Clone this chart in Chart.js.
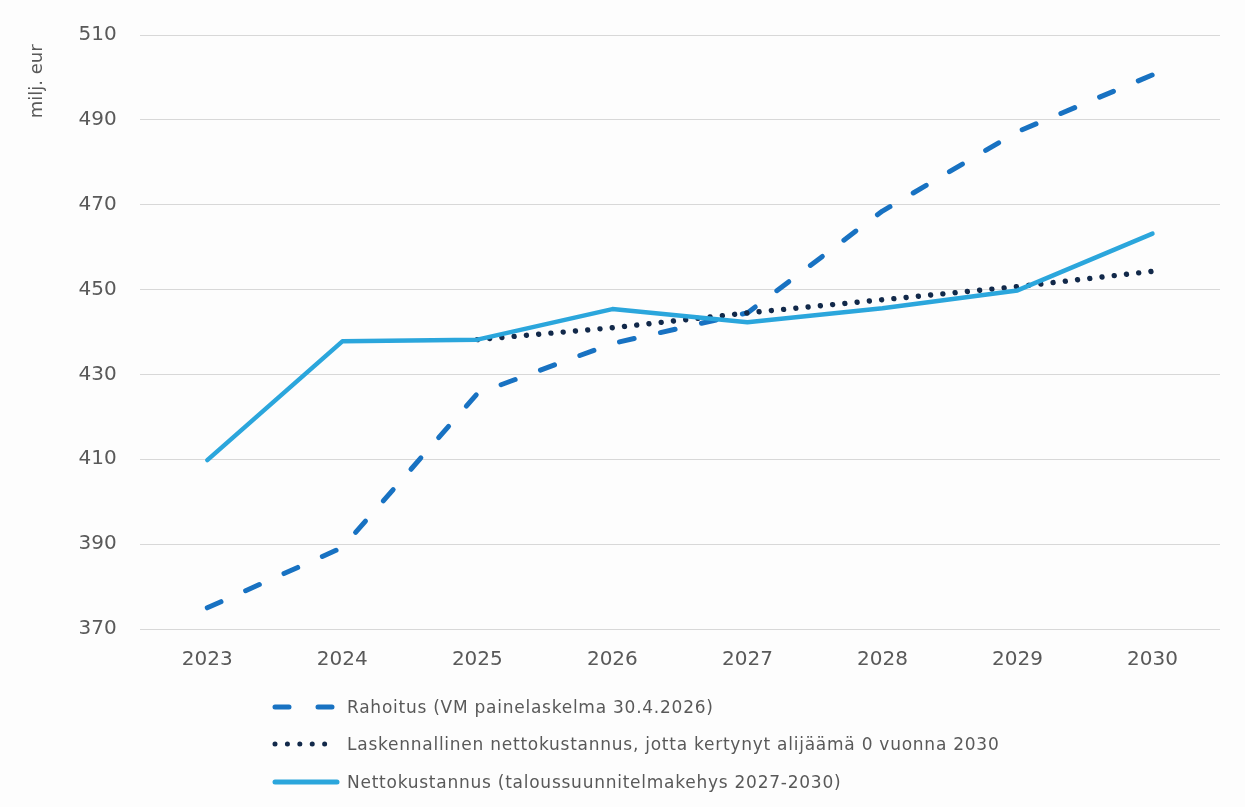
<!DOCTYPE html>
<html lang="fi">
<head>
<meta charset="utf-8">
<script src="https://cdn.jsdelivr.net/npm/chart.js@4.4.1/dist/chart.umd.min.js"></script>
<style>
    html, body { margin: 0; padding: 0; background: #fdfdfd; }
    #wrap { position: relative; width: 1245px; height: 807px; }
    #legend { position: absolute; left: 272px; top: 688px; font-family: "DejaVu Sans", sans-serif; font-size: 17px; letter-spacing: 0.75px; color: #595959; }
    .item { display: flex; align-items: center; height: 37.5px; }
    .item svg { margin-right: 7px; }
</style>
</head>
<body>
<div id="wrap">
    <canvas id="chart" width="1245" height="807"></canvas>
    <div id="legend"></div>
</div>
<script>
/* Rahoitus vs nettokustannus */
const vuodet = ['2023', '2024', '2025', '2026', '2027', '2028', '2029', '2030'];
const rahoitus = [375.0, 389.2, 425.5, 437.3, 444.5, 468.5, 487.2, 500.6];
const laskennallinen = [null, null, 438.2, 441.0, 444.5, 447.6, 450.7, 454.3];
const nettokustannus = [409.8, 437.8, 438.2, 445.4, 442.3, 445.6, 449.8, 463.2];
const yTicks = [370, 390, 410, 430, 450, 470, 490, 510];

const fontti = '"DejaVu Sans", sans-serif';

const sarjat = [
    { label: 'Rahoitus (VM painelaskelma 30.4.2026)', data: rahoitus, color: '#1872c2', dash: [15, 27], width: 5, order: 2, legendDash: '14 29' },
    { label: 'Laskennallinen nettokustannus, jotta kertynyt alijäämä 0 vuonna 2030', data: laskennallinen, color: '#12294a', dash: [0.01, 12.3], width: 5.4, order: 1, legendDash: '0.01 12.4' },
    { label: 'Nettokustannus (taloussuunnitelmakehys 2027-2030)', data: nettokustannus, color: '#2ba6dc', dash: [], width: 4.5, order: 0, legendDash: '' },
];

new Chart(document.getElementById('chart'), {
    type: 'line',
    data: {
        labels: vuodet,
        datasets: sarjat.map(s => ({
            label: s.label,
            data: s.data,
            borderColor: s.color,
            borderWidth: s.width,
            borderDash: s.dash,
            borderCapStyle: 'round',
            borderJoinStyle: 'round',
            pointRadius: 0,
            tension: 0,
            fill: false,
            order: s.order,
        }))
    },
    options: {
        responsive: false,
        animation: false,
        layout: { padding: { left: 23, right: 25, top: 31, bottom: 116 } },
        plugins: { legend: { display: false }, tooltip: { enabled: false } },
        scales: {
            x: {
                offset: true,
                grid: { display: false, drawTicks: false },
                border: { display: false },
                ticks: { color: '#595959', font: { family: fontti, size: 20 }, padding: 19 }
            },
            y: {
                min: 370,
                max: 510,
                afterBuildTicks: axis => { axis.ticks = yTicks.map(v => ({ value: v })); },
                grid: { color: '#d8d8d8', lineWidth: 1, drawTicks: false },
                border: { display: false },
                ticks: { color: '#595959', font: { family: fontti, size: 20 }, padding: 23 },
                title: {
                    display: true,
                    text: 'milj. eur\u00a0\u2009',
                    align: 'end',
                    color: '#595959',
                    font: { family: fontti, size: 18 },
                    padding: { top: 4, bottom: 7 }
                }
            }
        }
    }
});

const legend = document.getElementById('legend');
legend.innerHTML = sarjat.map(s => `<div class="item">
    <svg width="68" height="10"><line x1="3" y1="5" x2="65" y2="5" stroke="${s.color}" stroke-width="5" stroke-linecap="round" ${s.legendDash ? `stroke-dasharray="${s.legendDash}"` : ''}/></svg>
    <span>${s.label}</span>
</div>`).join('');
</script>
</body>
</html>
